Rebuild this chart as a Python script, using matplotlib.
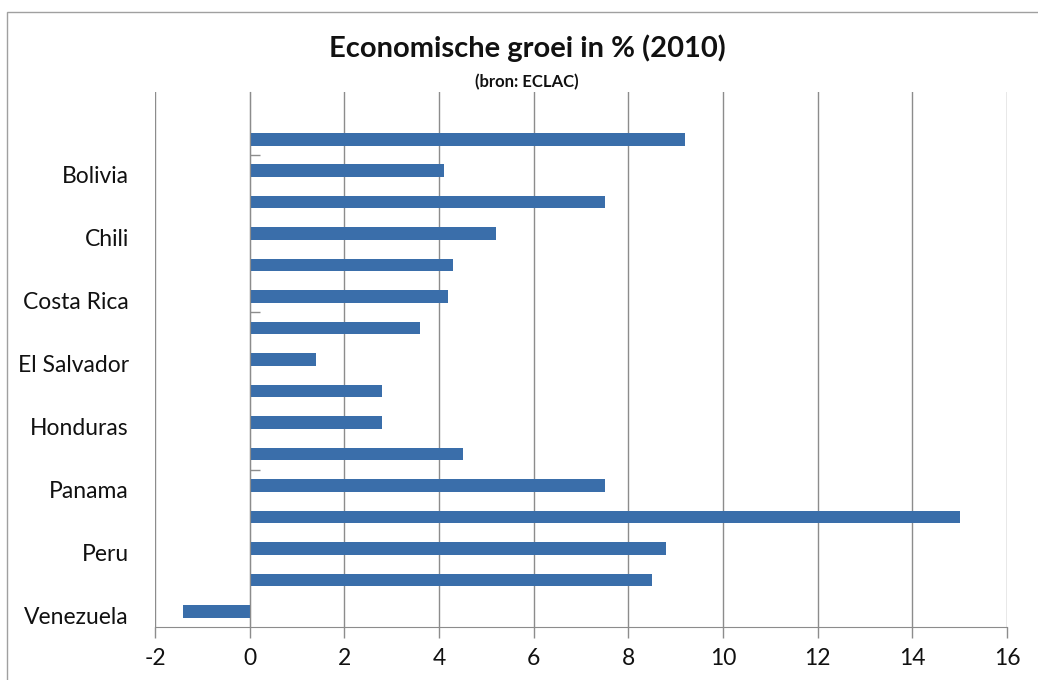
import matplotlib
matplotlib.use("Agg")
import matplotlib.pyplot as plt
from matplotlib.patches import Rectangle
from matplotlib.transforms import ScaledTranslation

plt.rcParams["font.family"] = ["Lato", "DejaVu Sans"]
plt.rcParams["axes.unicode_minus"] = False

# countries from top to bottom (Excel shows every 2nd label, counted from the bottom)
countries = ["Argentinië", "Bolivia", "Brazilië", "Chili", "Colombia", "Costa Rica",
             "Ecuador", "El Salvador", "Guatemala", "Honduras", "Mexico", "Panama",
             "Paraguay", "Peru", "Uruguay", "Venezuela"]
growth = [9.2, 4.1, 7.5, 5.2, 4.3, 4.2, 3.6, 1.4, 2.8, 2.8, 4.5, 7.5, 15.0, 8.8, 8.5, -1.4]

BAR = "#3a6eaa"
GRID = "#8c8c8c"

fig = plt.figure(figsize=(10.38, 6.8), dpi=100)
ax = fig.add_axes([155 / 1038, 53 / 680, 852 / 1038, 535 / 680])

n = len(countries)
ypos = [n - 1 - i for i in range(n)]          # Venezuela at 0, Argentinië at top
ax.barh(ypos, growth, height=0.4, color=BAR, zorder=3)

ax.set_xlim(-2, 16)
ax.set_ylim(-0.5, n + 0.5)                     # one empty slot on top, as in the original

ax.set_xticks(range(-2, 17, 2))
ax.grid(axis="x", color=GRID, linewidth=1.0, zorder=0)
ax.tick_params(axis="x", direction="out", length=8, width=1, color=GRID,
               labelsize=16.5, pad=7, labelcolor="#111111")

# category axis sits on x = 0, labels kept at the far left
ax.spines["left"].set_position(("data", 0))
ax.spines["left"].set_color(GRID)
ax.spines["left"].set_zorder(4)
ax.spines["bottom"].set_color(GRID)
ax.spines["top"].set_visible(False)
ax.spines["right"].set_visible(False)

lab_pos = [p for p in ypos if p % 2 == 0]
lab_txt = [countries[n - 1 - p] for p in lab_pos]
ax.set_yticks(lab_pos)
ax.set_yticklabels(lab_txt)
ax.tick_params(axis="y", which="major", length=0, pad=87, labelsize=16.5,
               labelcolor="#111111")
shift = ScaledTranslation(0, -4 / 100, fig.dpi_scale_trans)
for lab in ax.get_yticklabels():
    lab.set_transform(lab.get_transform() + shift)
ax.set_yticks([4.5, 9.5, 14.5], minor=True)
ax.tick_params(axis="y", which="minor", direction="in", length=7, width=1, color=GRID)

fig.text(527 / 1038, 1 - 48 / 680, "Economische groei in % (2010)", ha="center",
         va="center", fontsize=21, fontweight="bold", color="#111111")
fig.text(527 / 1038, 1 - 82 / 680, "(bron: ECLAC)", ha="center", va="center",
         fontsize=12, fontweight="bold", color="#111111")

# chart frame (cropped at the right and bottom edges in the original)
fig.patches.append(Rectangle((7 / 1038, -0.05), 1.2, (680 - 12) / 680 + 0.05,
                             transform=fig.transFigure, fill=False,
                             edgecolor="#a0a0a0", linewidth=1))

fig.savefig("out.png", dpi=100)
